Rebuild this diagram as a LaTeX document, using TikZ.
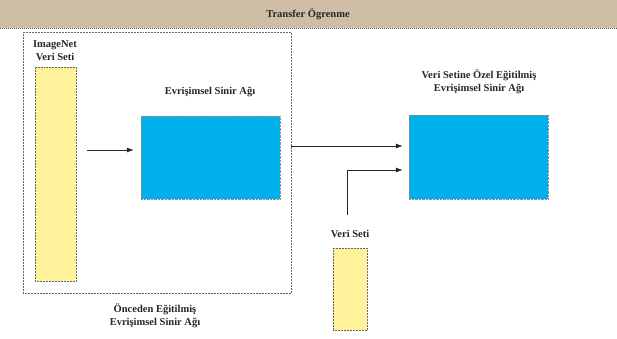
\documentclass[tikz,border=0pt]{standalone}
\usepackage{fontspec}
\setmainfont{Liberation Serif}
\usetikzlibrary{arrows.meta}
\definecolor{hdr}{RGB}{207,189,165}
\definecolor{ylw}{RGB}{255,242,155}
\definecolor{cnn}{RGB}{0,176,236}
\tikzset{
  lbl/.style={font=\bfseries\fontsize{10.5}{13}\selectfont, align=center, text=black!85, inner sep=0pt},
  ybox/.style={fill=ylw, draw=black!60, densely dotted, line width=0.5pt},
  bbox/.style={fill=cnn, draw=black!45, densely dotted, line width=0.4pt},
  conn/.style={-{Latex[length=7pt,width=5pt]}, line width=0.7pt, black!85}
}
\begin{document}
\begin{tikzpicture}[x=1pt,y=-1pt]
\useasboundingbox (0,0) rectangle (617,338);
\fill[white] (0,0) rectangle (617,338);
% header
\fill[hdr] (0,0) rectangle (617,28);
\draw[black!65, densely dotted, line width=1pt] (0,28) -- (617,28);
\node[lbl] (title) at (308,14) {Transfer Ögrenme};
% outer pretrained box
\draw[black!60, densely dotted, line width=0.5pt] (23,32) rectangle (291,293);
\coordinate (outE) at (291,146);
\node[lbl] (imgl) at (55,51) {ImageNet\\Veri Seti};
\node[ybox, minimum width=41pt, minimum height=214pt, inner sep=0pt] (img) at (55.5,174) {};
\node[lbl] (cnnl) at (210,92) {Evrişimsel Sinir Ağı};
\node[bbox, minimum width=139pt, minimum height=83pt, inner sep=0pt] (cnn1) at (210.5,157.5) {};
\coordinate (a1s) at (87,150);
\draw[conn] (a1s) -- ([xshift=-7pt]cnn1.west |- a1s);
\node[lbl] (prel) at (155,316) {Önceden Eğitilmiş\\Evrişimsel Sinir Ağı};
% right network
\node[lbl] (ftl) at (479,82) {Veri Setine Özel Eğitilmiş\\Evrişimsel Sinir Ağı};
\node[bbox, minimum width=139pt, minimum height=84pt, inner sep=0pt] (cnn2) at (478.5,157) {};
\draw[conn] (outE) -- ([xshift=-6pt]cnn2.west |- outE);
% dataset
\node[lbl] (dsl) at (350,234) {Veri Seti};
\node[ybox, minimum width=34pt, minimum height=82pt, inner sep=0pt] (ds) at (350,289) {};
\coordinate (bend) at (347,170);
\draw[conn] (347,215) -- (bend) -- ([xshift=-6pt]cnn2.west |- bend);
\end{tikzpicture}
\end{document}
